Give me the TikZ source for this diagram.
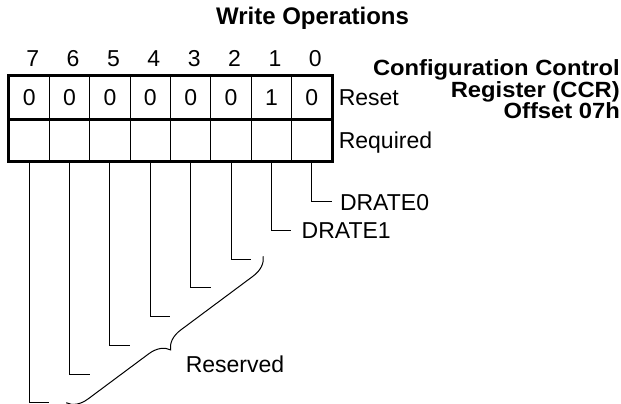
\documentclass[tikz,border=0pt]{standalone}
\usepackage{fontspec}
\setmainfont{Liberation Sans}
\usetikzlibrary{positioning,calc,decorations.pathreplacing}

\newcommand{\widebf}[1]{\scalebox{1.08}[1]{#1}}

\tikzset{
    cell/.style={draw, line width=1.2pt, minimum width=40.375pt, minimum height=42.5pt, inner sep=0pt,
        text height=16.5pt, text depth=0pt, font=\fontsize{23}{23}\selectfont},
    txt/.style={inner sep=0pt, text height=16.5pt, text depth=0pt, font=\fontsize{23}{23}\selectfont},
    hdr/.style={inner sep=0pt, font=\fontsize{24}{24}\selectfont\bfseries},
    cfg/.style={inner sep=0pt, anchor=base east, font=\fontsize{22}{22}\selectfont\bfseries},
    wire/.style={line width=1pt}
}

\begin{document}
\begin{tikzpicture}[x=1pt,y=-1pt]
        \useasboundingbox (0,0) rectangle (621,404);
        \node[hdr] (title) at (312.5,18) {Write Operations};

        % register cells, bit 7 on the left
        \foreach \b/\v in {7/0,6/0,5/0,4/0,3/0,2/0,1/1,0/0} {
            \node[txt] (n\b) at ({32.7+40.375*(7-\b)},58) {\b};
            \node[cell] (r\b) at ({29.2+40.375*(7-\b)},97.5) {\v};
            \node[cell] (q\b) at ({29.2+40.375*(7-\b)},140) {};
        }
        \draw[line width=3.2pt] (r7.north west) rectangle (q0.south east);
        \draw[line width=3.2pt] (r7.south west) -- (r0.south east);

        \node[txt, right=6pt of r0] (reset) {Reset};
        \node[txt, right=6pt of q0] (req) {Required};

        \node[cfg] (ccr1) at (620,76) {\widebf{Configuration Control}};
        \node[cfg] (ccr2) at (620,97) {\widebf{Register (CCR)}};
        \node[cfg] (ccr3) at (620,118) {\widebf{Offset 07h}};

        % bit lines
        \foreach \b in {0,...,7} {
            \coordinate (e\b) at ($(q\b.south)+(20,{40+28.7*\b})$);
            \draw[wire] (q\b.south) |- (e\b);
        }
        \node[txt, right=8pt of e0] (drate0) {DRATE0};
        \node[txt, right=10pt of e1] (drate1) {DRATE1};

        \coordinate (br1) at ($(e2)+(12,-3)$);
        \coordinate (br2) at ($(e7)+(17,0)$);
        \draw[wire, decorate, decoration={brace, amplitude=20pt, aspect=0.53}] (br1) -- (br2);
        \node[txt] (rsv) at (235,364) {Reserved};
    \end{tikzpicture}
\end{document}
